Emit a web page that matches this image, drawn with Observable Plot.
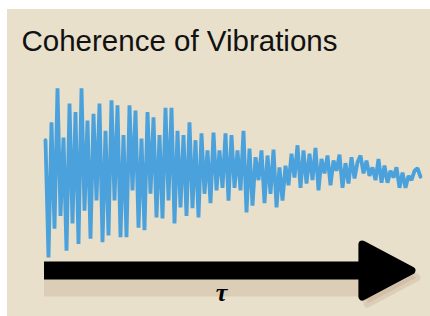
<!DOCTYPE html>
<html>
<head>
<meta charset="utf-8">
<script src="https://cdn.jsdelivr.net/npm/d3@7"></script>
<script src="https://cdn.jsdelivr.net/npm/@observablehq/plot@0.6"></script>
<style>
  html, body { margin: 0; padding: 0; background: #ffffff; }
  #wrap { position: relative; width: 430px; height: 316px; overflow: hidden; }
  #panel { position: absolute; left: 7px; top: 9px; right: 0; bottom: 0; background: #e8e0ca; }
  #chart { position: absolute; left: 0; top: 0; }
  #chart svg { background: transparent; }
</style>
</head>
<body>
<div id="wrap"><div id="panel"></div><div id="chart"></div></div>
<script>
// Chart text
const titleText = "Coherence of Vibrations";
const axisLabel = "τ";

// Vibration amplitude samples (uniform time steps)
const amplitude = [
  0.38, -1.00, 0.59, -0.66, 0.99, -0.51, 0.41, -0.92, 0.81, -0.60,
  0.71, -0.84, 0.99, -0.45, 0.61, -0.78, 0.69, -0.33, 0.81, -0.82,
  0.49, -0.74, 0.85, -0.33, 0.79, -0.76, 0.44, -0.76, 0.79, -0.21,
  0.73, -0.65, 0.40, -0.68, 0.71, -0.25, 0.65, -0.53, 0.44, -0.54,
  0.76, -0.33, 0.76, -0.60, 0.49, -0.41, 0.44, -0.51, 0.59, -0.42,
  0.38, -0.53, 0.46, -0.25, 0.26, -0.36, 0.47, -0.21, 0.26, -0.18,
  0.46, -0.33, 0.44, -0.18, 0.26, -0.21, 0.49, -0.47, 0.28, -0.39,
  0.18, -0.09, 0.26, -0.36, 0.20, -0.25, 0.27, -0.41, 0.06, -0.33,
  0.08, -0.15, 0.22, -0.06, 0.32, -0.18, 0.26, -0.13, 0.22, -0.09,
  0.29, -0.21, 0.16, -0.01, 0.20, -0.15, 0.14, 0.02, 0.21, -0.18,
  0.11, -0.13, 0.18, -0.07, 0.12, 0.20, -0.01, 0.14, -0.04, 0.06,
  -0.09, 0.16, -0.12, 0.08, -0.12, 0.02, -0.06, 0.06, -0.18, 0.00,
  -0.18, -0.04, -0.09, 0.02, 0.05, -0.05
];
const timeIndex = amplitude.map((_, i) => i);

// Time-axis arrow (in time-step units / amplitude units)
const arrowStart = [-0.33];
const arrowShaftEnd = [106];
const arrowHeadBase = [104.3];
const arrowLevel = [-1.153];
const tauPosition = [58.7];

const signal = timeIndex.map((t, i) => ({t, a: amplitude[i]}));
const shaft = [{x1: arrowStart[0], x2: arrowShaftEnd[0], y: arrowLevel[0]}];
const head = [{x: arrowHeadBase[0], y: arrowLevel[0]}];
const tau = [{x: tauPosition[0], y: arrowLevel[0], label: axisLabel}];

const headSymbol = {
  draw(context) {
    context.moveTo(4, -26);
    context.lineTo(53, 0);
    context.lineTo(4, 26);
    context.closePath();
  }
};

const chart = Plot.plot({
  width: 430,
  height: 316,
  margin: 0,
  style: {background: "transparent", overflow: "visible"},
  x: {domain: [0, amplitude.length - 1], range: [45, 420], axis: null},
  y: {domain: [-1, 1], range: [257, 87], axis: null},
  marks: [
    Plot.text([titleText], {
      frameAnchor: "top-left", text: d => d, lineAnchor: "top",
      dx: 21, dy: 30, fontSize: 29.5, fill: "#111",
      fontFamily: "Liberation Sans, Arial, sans-serif", textAnchor: "start"
    }),
    // shadows
    Plot.ruleY(shaft, {x1: "x1", x2: "x2", y: "y", dy: 17, stroke: "#b0826c", strokeOpacity: 0.2, strokeWidth: 18}),
    Plot.dot(head, {x: "x", y: "y", dx: 5, dy: 7, symbol: headSymbol, fill: "#b0826c", fillOpacity: 0.2, stroke: "#b0826c", strokeOpacity: 0.2, strokeWidth: 8, strokeLinejoin: "round"}),
    Plot.line(signal, {x: "t", y: "a", stroke: "#4aa1dc", strokeWidth: 3.8, strokeLinejoin: "bevel", curve: "linear"}),
    Plot.ruleY(shaft, {x1: "x1", x2: "x2", y: "y", stroke: "#000", strokeWidth: 18}),
    Plot.dot(head, {x: "x", y: "y", symbol: headSymbol, fill: "#000", stroke: "#000", strokeWidth: 8, strokeLinejoin: "round"}),
    Plot.text(tau, {x: "x", y: "y", text: "label", dy: 22, fontSize: 26, fontStyle: "italic", fontWeight: "bold",
      fontFamily: "Liberation Serif, DejaVu Serif, serif", fill: "#000"})
  ]
});
document.getElementById("chart").appendChild(chart);
</script>
</body>
</html>
